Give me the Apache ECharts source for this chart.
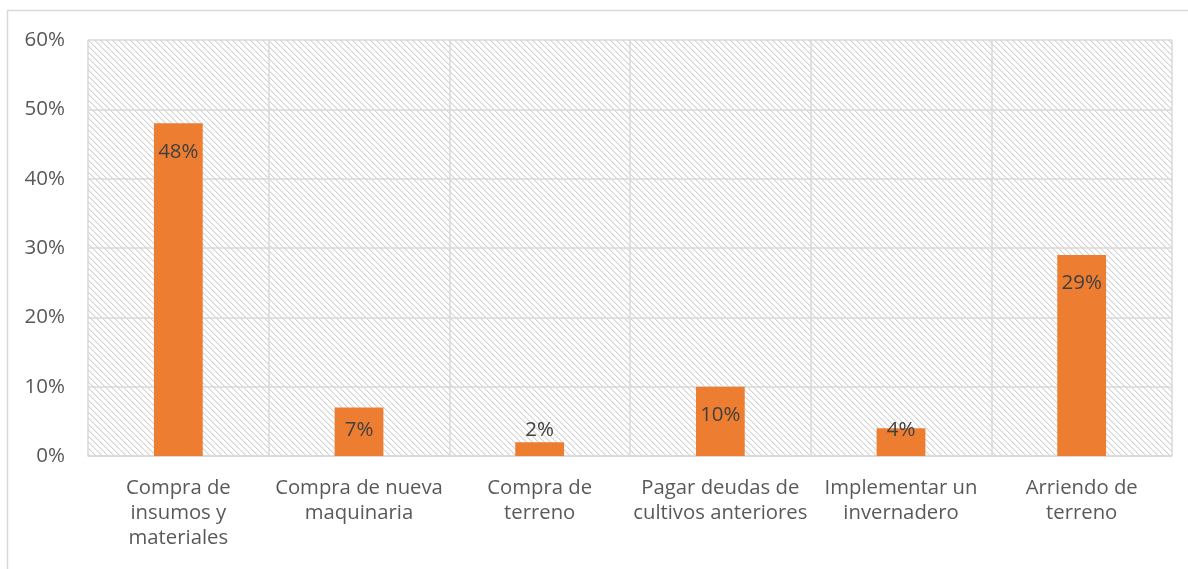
<!DOCTYPE html>
<html>
<head>
<meta charset="utf-8">
<script src="https://cdn.jsdelivr.net/npm/echarts@6/dist/echarts.min.js"></script>
<style>
html,body{margin:0;padding:0;background:#fff;}
#chart{width:1188px;height:569px;}
</style>
</head>
<body>
<div id="chart"></div>
<script>
const categories = [
  "Compra de\ninsumos y\nmateriales",
  "Compra de nueva\nmaquinaria",
  "Compra de\nterreno",
  "Pagar deudas de\ncultivos anteriores",
  "Implementar un\ninvernadero",
  "Arriendo de\nterreno"
];
const values = [48, 7, 2, 10, 4, 29];
const yTicks = [0, 10, 20, 30, 40, 50, 60];

// hatch pattern
const N = 6;
const tile = document.createElement('canvas');
tile.width = N; tile.height = N;
const tctx = tile.getContext('2d');
tctx.fillStyle = '#ffffff';
tctx.fillRect(0, 0, N, N);
for (let y = 0; y < N; y++) {
  for (let x = 0; x < N; x++) {
    const d = ((x - y) % N + N) % N;
    if (d === 0) { tctx.fillStyle = '#d4d4d4'; tctx.fillRect(x, y, 1, 1); }
    else if (d === 1) { tctx.fillStyle = '#ebebeb'; tctx.fillRect(x, y, 1, 1); }
  }
}

const chart = echarts.init(document.getElementById('chart'), null, {renderer: 'canvas'});
const font = 'Open Sans';
chart.setOption({
  animation: false,
  backgroundColor: '#ffffff',
  graphic: [{
    type: 'rect', z: -10, silent: true,
    shape: {x: 7.5, y: 10.5, width: 1300, height: 700},
    style: {fill: 'none', stroke: '#d9d9d9', lineWidth: 1.5}
  }],
  grid: {
    left: 88, right: 16, top: 40, bottom: 113,
    show: true,
    backgroundColor: {image: tile, repeat: 'repeat'},
    borderWidth: 0
  },
  xAxis: {
    type: 'category',
    data: categories,
    axisLine: {show: true, lineStyle: {color: '#d9d9d9', width: 1.5}},
    axisTick: {show: false},
    splitLine: {show: true, lineStyle: {color: '#d9d9d9', width: 1.5}},
    axisLabel: {
      color: '#595959', fontFamily: font, fontSize: 20.3, lineHeight: 25,
      margin: 20, interval: 0
    }
  },
  yAxis: {
    type: 'value',
    min: 0, max: 60, interval: 10,
    axisLine: {show: false},
    axisTick: {show: false},
    splitLine: {show: true, lineStyle: {color: '#d9d9d9', width: 1.5}},
    axisLabel: {
      color: '#595959', fontFamily: font, fontSize: 20.5, margin: 23,
      formatter: v => yTicks.includes(v) ? v + '%' : ''
    }
  },
  series: [{
    type: 'bar',
    barWidth: '27%',
    itemStyle: {color: '#ED7D31'},
    data: values.map(v => ({
      value: v,
      label: v < 8
        ? {position: 'insideBottom', distance: 15}
        : {position: 'insideTop', distance: 18}
    })),
    label: {
      show: true,
      color: '#404040', fontFamily: font, fontSize: 20.5,
      formatter: p => p.value + '%'
    }
  }]
});
</script>
</body>
</html>
